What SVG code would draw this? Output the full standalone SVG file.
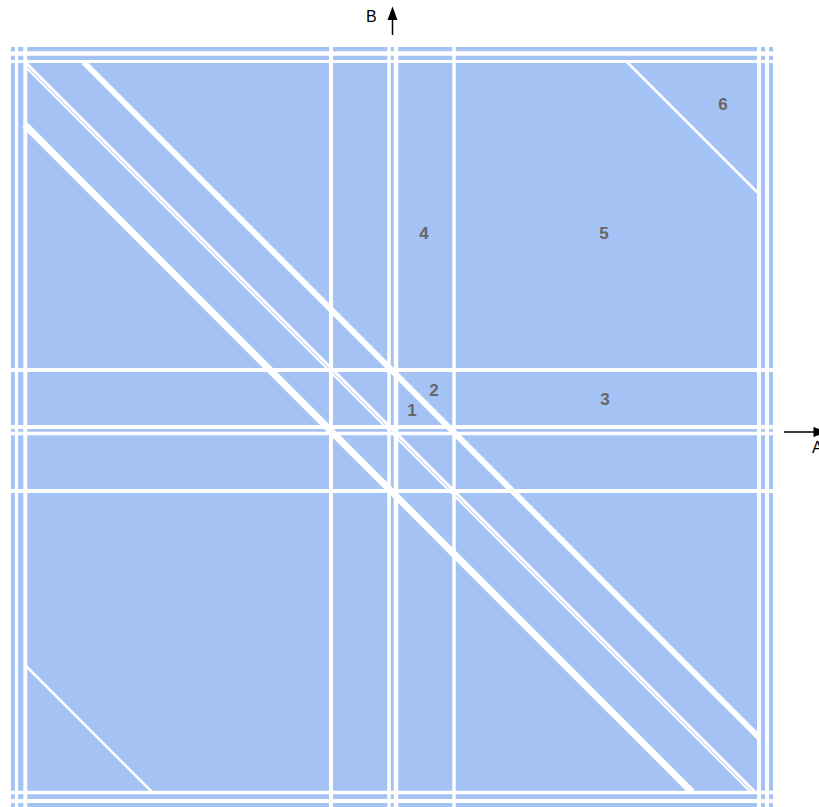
<svg xmlns="http://www.w3.org/2000/svg" width="819" height="807" viewBox="0 0 819 807">
<style>
.w{stroke:#ffffff;fill:none}
.lbl{font-family:"Liberation Sans",Arial,sans-serif;font-weight:bold;font-size:17px;fill:#666666;text-anchor:middle}
.ax{font-family:"Liberation Sans",Arial,sans-serif;font-size:16px;fill:#000000}
</style>
<rect x="0" y="0" width="819" height="807" fill="#ffffff"/>
<rect id="plane" x="11" y="47" width="762" height="760" fill="#a4c2f4"/>
<g id="grid" class="w">
<line x1="16.5" y1="47" x2="16.5" y2="807" stroke-width="3.3"/>
<line x1="25.3" y1="47" x2="25.3" y2="807" stroke-width="4"/>
<line x1="331" y1="47" x2="331" y2="807" stroke-width="4"/>
<line x1="389" y1="47" x2="389" y2="807" stroke-width="3.5"/>
<line x1="396" y1="47" x2="396" y2="807" stroke-width="4.5"/>
<line x1="454" y1="47" x2="454" y2="807" stroke-width="3.5"/>
<line x1="759" y1="47" x2="759" y2="807" stroke-width="4"/>
<line x1="767" y1="47" x2="767" y2="807" stroke-width="4"/>
<line x1="11" y1="53.5" x2="773" y2="53.5" stroke-width="4.5"/>
<line x1="11" y1="61.5" x2="773" y2="61.5" stroke-width="3"/>
<line x1="11" y1="370" x2="773" y2="370" stroke-width="4"/>
<line x1="11" y1="427" x2="773" y2="427" stroke-width="4"/>
<line x1="11" y1="433.5" x2="773" y2="433.5" stroke-width="3.5"/>
<line x1="11" y1="491" x2="773" y2="491" stroke-width="4"/>
<line x1="11" y1="792.5" x2="773" y2="792.5" stroke-width="3.5"/>
<line x1="11" y1="801" x2="773" y2="801" stroke-width="4"/>
</g>
<g id="diagonals" class="w">
<line x1="25" y1="125" x2="692" y2="792" stroke-width="7"/>
<line x1="83.5" y1="62" x2="759" y2="737.5" stroke-width="6"/>
<line x1="25" y1="62" x2="755" y2="792" stroke-width="3"/>
<line x1="25" y1="66.5" x2="750.5" y2="792" stroke-width="2"/>
<line x1="627" y1="62" x2="759" y2="194" stroke-width="2.5"/>
<line x1="25" y1="665" x2="152" y2="792" stroke-width="2.5"/>
</g>
<g id="labels">
<text id="r1" class="lbl" x="412" y="415.5">1</text>
<text id="r2" class="lbl" x="434" y="395.5">2</text>
<text id="r3" class="lbl" x="605" y="404.5">3</text>
<text id="r4" class="lbl" x="424" y="238.5">4</text>
<text id="r5" class="lbl" x="604" y="238.5">5</text>
<text id="r6" class="lbl" x="723" y="109.5">6</text>
</g>
<g id="axes">
<line x1="392.5" y1="35" x2="392.5" y2="18" stroke="#000" stroke-width="1.5"/>
<polygon points="392.5,6.5 387.5,20 397.5,20" fill="#000"/>
<text class="ax" x="366" y="22">B</text>
<line x1="784" y1="432" x2="815" y2="432" stroke="#000" stroke-width="1.5"/>
<polygon points="827,432 813.5,427 813.5,437" fill="#000"/>
<text class="ax" x="812" y="453">A</text>
</g>
</svg>
